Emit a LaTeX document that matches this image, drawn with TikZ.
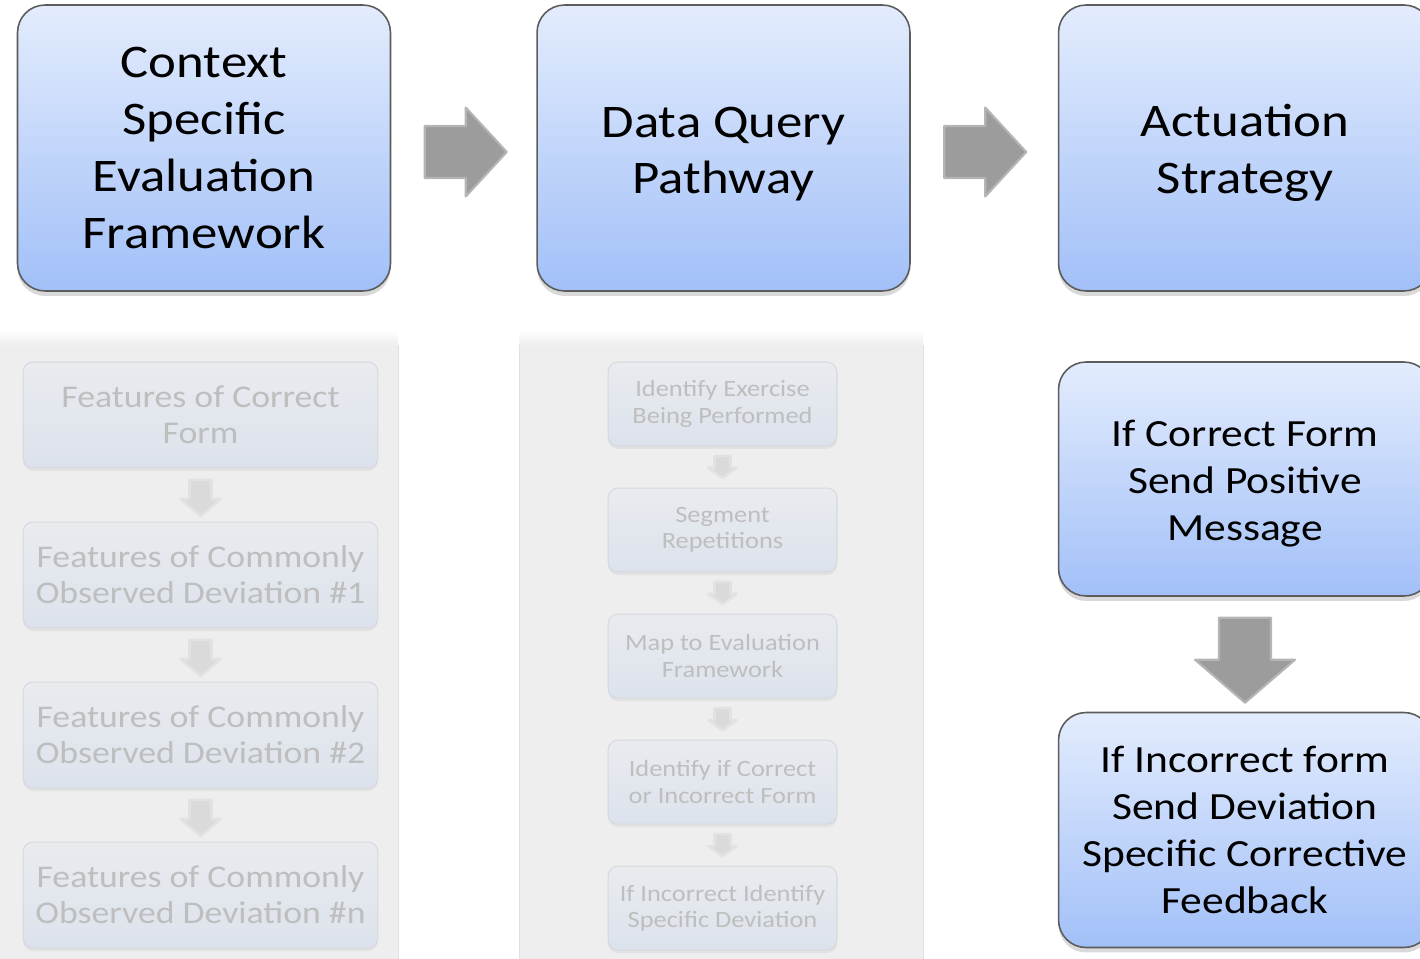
\documentclass[tikz,border=0pt]{standalone}
\usepackage{fontspec}
\setmainfont{Carlito}[FakeStretch=1.13]
\usetikzlibrary{positioning,shadows,calc}

\definecolor{boxtop}{HTML}{E3ECFD}
\definecolor{boxbot}{HTML}{A2C0F8}
\definecolor{boxline}{HTML}{5C5C5C}
\definecolor{panelgray}{HTML}{EEEEEE}
\definecolor{paneledge}{HTML}{E0E0E0}
\definecolor{ghosttop}{HTML}{E9EBEF}
\definecolor{ghostbot}{HTML}{DCE2EC}
\definecolor{ghostline}{HTML}{D6D9DE}
\definecolor{ghosttext}{HTML}{BEBEBE}
\definecolor{arrowgray}{HTML}{9C9C9C}
\definecolor{ghostgray}{HTML}{DADADA}

\tikzset{
  stage/.style={draw=boxline, line width=0.9pt, rounded corners=0.55cm,
    top color=boxtop, bottom color=boxbot, minimum width=7.46cm,
    minimum height=5.72cm, align=center, inner sep=0pt,
    drop shadow={shadow xshift=0pt, shadow yshift=-0.1cm, opacity=0.3}},
  toptext/.style={font=\fontsize{26.6}{32.4}\selectfont},
  sidetext/.style={font=\fontsize{21.9}{26.7}\selectfont},
  ghost/.style={draw=ghostline, line width=0.6pt, rounded corners=0.2cm,
    top color=ghosttop, bottom color=ghostbot, align=center, inner sep=0pt,
    text=ghosttext,
    drop shadow={shadow xshift=0pt, shadow yshift=-0.06cm, opacity=0.1}},
  wideghost/.style={ghost, minimum width=7.1cm, minimum height=2.12cm,
    font=\fontsize{18}{20.5}\selectfont},
  narrowghost/.style={ghost, minimum width=4.58cm, minimum height=1.68cm,
    font=\fontsize{13.3}{15.1}\selectfont},
  pics/fatarrow/.style n args={4}{code={
    \filldraw[line join=round] (-#1/2,-#2) -- (#1/2-#4,-#2) -- (#1/2-#4,-#3) -- (#1/2,0)
      -- (#1/2-#4,#3) -- (#1/2-#4,#2) -- (-#1/2,#2) -- cycle;}},
  bigarrow/.style={fill=arrowgray, draw=arrowgray!75!white, line width=1.2pt},
  smallarrow/.style={fill=ghostgray, draw=ghostgray!60!panelgray, line width=1.5pt}
}

\begin{document}
\begin{tikzpicture}[x=0.02cm, y=-0.02cm]
    \useasboundingbox (0,0) rectangle (1420,959);
    \clip (0,0) rectangle (1420,959);

    \fill[panelgray] (-5,340) rectangle (398,965);
    \shade[top color=white, bottom color=panelgray] (-5,330) rectangle (398,346);
    \draw[paneledge] (398,345) -- (398,965);
    \fill[panelgray] (519,340) rectangle (923,965);
    \shade[top color=white, bottom color=panelgray] (519,330) rectangle (923,346);
    \draw[paneledge] (519,345) -- (519,965);
    \draw[paneledge] (923,345) -- (923,965);

    \node[stage, toptext] (ctx) at (204,148) {Context\\Specific\\Evaluation\\Framework};
    \node[stage, toptext] (query) at (723.5,148) {\rule{0pt}{24.2pt}Data Query\\Pathway};
    \node[stage, toptext] (act) at (1245,148) {\rule{0pt}{24.2pt}Actuation\\Strategy};

    \pic[bigarrow] at ($(ctx.east)!0.5!(query.west)+(2,4)$) {fatarrow={82}{26}{44.5}{41}};
    \pic[bigarrow] at ($(query.east)!0.5!(act.west)+(1,4)$) {fatarrow={82}{26}{44.5}{41}};

    \node[wideghost] (feat) at (200.5,415) {Features of Correct\\Form};
    \node[wideghost, below=1.06cm of feat] (dev1) {Features of Commonly\\Observed Deviation \#1};
    \node[wideghost, below=1.06cm of dev1] (dev2) {Features of Commonly\\Observed Deviation \#2};
    \node[wideghost, below=1.06cm of dev2] (devn) {Features of Commonly\\Observed Deviation \#n};

    \pic[smallarrow, rotate=-90] at ($(feat.south)!0.5!(dev1.north)+(0,3)$) {fatarrow={36}{11}{20}{17}};
    \pic[smallarrow, rotate=-90] at ($(dev1.south)!0.5!(dev2.north)+(0,3)$) {fatarrow={36}{11}{20}{17}};
    \pic[smallarrow, rotate=-90] at ($(dev2.south)!0.5!(devn.north)+(0,3)$) {fatarrow={36}{11}{20}{17}};

    \node[narrowghost] (ident) at (722.5,404) {Identify Exercise\\Being Performed};
    \node[narrowghost, below=0.82cm of ident] (segm) {Segment\\Repetitions};
    \node[narrowghost, below=0.82cm of segm] (mapev) {Map to Evaluation\\Framework};
    \node[narrowghost, below=0.82cm of mapev] (corr) {Identify if Correct\\or Incorrect Form};
    \node[narrowghost, below=0.82cm of corr] (spec) {If Incorrect Identify\\Specific Deviation};

    \pic[smallarrow, rotate=-90] at ($(ident.south)!0.5!(segm.north)$) {fatarrow={22}{8}{14}{10}};
    \pic[smallarrow, rotate=-90] at ($(segm.south)!0.5!(mapev.north)$) {fatarrow={22}{8}{14}{10}};
    \pic[smallarrow, rotate=-90] at ($(mapev.south)!0.5!(corr.north)$) {fatarrow={22}{8}{14}{10}};
    \pic[smallarrow, rotate=-90] at ($(corr.south)!0.5!(spec.north)$) {fatarrow={22}{8}{14}{10}};

    \node[stage, sidetext, minimum height=4.68cm] (pos) at (1245,479) {\rule{0pt}{20.3pt}If Correct Form\\Send Positive\\Message};
    \node[stage, sidetext, minimum height=4.7cm, below=2.3cm of pos] (neg) {If Incorrect form\\Send Deviation\\Specific Corrective\\Feedback};

    \pic[bigarrow, rotate=-90] at ($(pos.south)!0.5!(neg.north)+(0,6)$) {fatarrow={85}{26}{50}{43}};
\end{tikzpicture}
\end{document}
